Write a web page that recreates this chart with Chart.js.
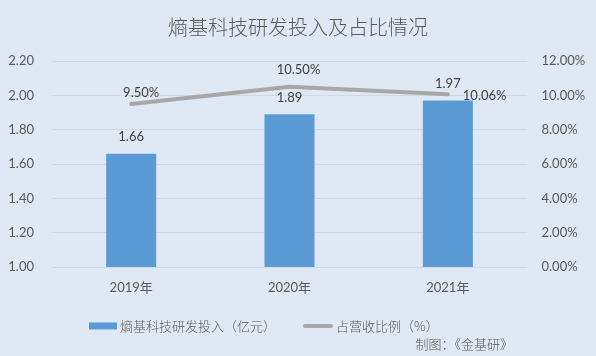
<!DOCTYPE html>
<html>
<head>
<meta charset="utf-8">
<script src="https://cdn.jsdelivr.net/npm/chart.js@4/dist/chart.umd.min.js"></script>
<style>
  html, body { margin: 0; padding: 0; background: #dee9f5; }
  #wrap { width: 596px; height: 356px; }
</style>
</head>
<body>
<div id="wrap"><canvas id="c" width="596" height="356"></canvas></div>
<script>
const categories = ['2019年', '2020年', '2021年'];
const rdInvestment = [1.66, 1.89, 1.97];          // 亿元
const revenueShare = [9.50, 10.50, 10.06];       // %
const leftTicks = { min: 1.0, max: 2.2, step: 0.2 };
const rightTicks = { min: 0, max: 12, step: 2 };
const titleText = '熵基科技研发投入及占比情况';
const barLegend = '熵基科技研发投入（亿元）';
const lineLegend = '占营收比例（%）';
const creditText = '制图：《金基研》';

const FONT = "Lato, 'Noto Sans CJK SC', sans-serif";
const CJK = "'Noto Sans CJK SC', Lato, sans-serif";
const TXT = '#595959';
const BAR = '#5b9bd5';
const LINE = '#a9a6a6';
const GRID = '#d2d8de';

const labelPlugin = {
  id: 'extras',
  afterDatasetsDraw(chart) {
    const ctx = chart.ctx;
    ctx.save();
    ctx.fillStyle = '#404040';
    ctx.font = '13px ' + FONT;
    ctx.textBaseline = 'middle';
    const barMeta = chart.getDatasetMeta(0);
    barMeta.data.forEach((el, i) => {
      ctx.textAlign = 'center';
      ctx.fillText(rdInvestment[i].toFixed(2), el.x, el.y - 16.5);
    });
    const lineMeta = chart.getDatasetMeta(1);
    const shifts = [[10, -11, 'center'], [9, -17, 'center'], [15, 2, 'left']];
    lineMeta.data.forEach((el, i) => {
      const s = shifts[i];
      ctx.textAlign = s[2];
      ctx.fillText(revenueShare[i].toFixed(2) + '%', el.x + s[0], el.y + s[1]);
    });
    ctx.restore();
  },
  afterDraw(chart) {
    const ctx = chart.ctx;
    ctx.save();
    ctx.textBaseline = 'middle';
    ctx.font = '300 13px ' + CJK;
    const ly = 326;
    ctx.fillStyle = BAR;
    ctx.fillRect(89, ly - 3.5, 28, 7);
    ctx.fillStyle = TXT;
    ctx.textAlign = 'left';
    ctx.fillText(barLegend, 120, ly);
    ctx.strokeStyle = LINE;
    ctx.lineWidth = 4;
    ctx.lineCap = 'round';
    ctx.beginPath();
    ctx.moveTo(305, ly);
    ctx.lineTo(331, ly);
    ctx.stroke();
    ctx.fillText(lineLegend, 336, ly);
    ctx.textAlign = 'right';
    ctx.fillText(creditText, 513, 344);
    ctx.restore();
  }
};

new Chart(document.getElementById('c'), {
  data: {
    labels: categories,
    datasets: [
      {
        type: 'bar',
        label: barLegend,
        data: rdInvestment,
        backgroundColor: BAR,
        yAxisID: 'y',
        categoryPercentage: 1.0,
        barPercentage: 0.316,
        order: 2
      },
      {
        type: 'line',
        label: lineLegend,
        data: revenueShare,
        borderColor: LINE,
        borderWidth: 4,
        borderCapStyle: 'round',
        pointRadius: 0,
        tension: 0,
        yAxisID: 'y1',
        order: 1
      }
    ]
  },
  options: {
    responsive: false,
    animation: false,
    layout: { padding: 0 },
    plugins: {
      legend: { display: false },
      tooltip: { enabled: false },
      title: {
        display: true,
        text: titleText,
        color: TXT,
        font: { family: CJK, size: 20, weight: '300' },
        padding: { top: 15, bottom: 22 }
      }
    },
    scales: {
      x: {
        grid: { display: false, drawTicks: false },
        border: { display: false },
        ticks: { color: TXT, font: { family: FONT, size: 13 }, padding: 13 },
        afterFit(s) { s.height = 89; }
      },
      y: {
        position: 'left',
        min: leftTicks.min, max: leftTicks.max,
        ticks: {
          stepSize: leftTicks.step,
          color: TXT,
          font: { family: FONT, size: 13 },
          padding: 18,
          callback: v => Number(v).toFixed(2)
        },
        grid: { color: GRID, drawTicks: false, lineWidth: 1 },
        border: { display: false },
        afterFit(s) { s.width = 52; }
      },
      y1: {
        position: 'right',
        min: rightTicks.min, max: rightTicks.max,
        ticks: {
          stepSize: rightTicks.step,
          color: TXT,
          font: { family: FONT, size: 13 },
          padding: 14.5,
          callback: v => Number(v).toFixed(2) + '%'
        },
        grid: { display: false, drawTicks: false },
        border: { display: false },
        afterFit(s) { s.width = 69; }
      }
    }
  },
  plugins: [labelPlugin]
});
</script>
</body>
</html>
